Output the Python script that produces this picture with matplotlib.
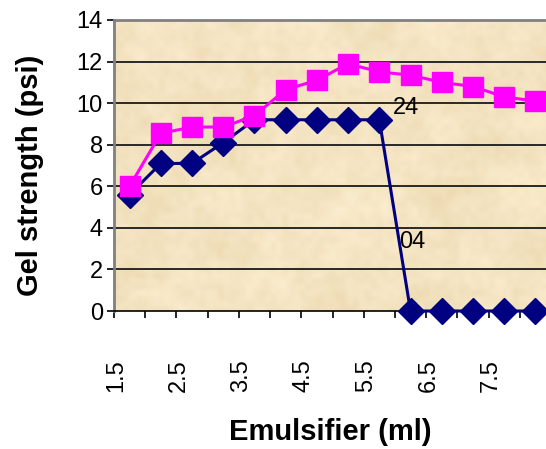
import numpy as np
import matplotlib.pyplot as plt
from matplotlib.ticker import FixedLocator

plt.rcParams['font.family'] = ['Liberation Sans', 'DejaVu Sans']

# emulsifier volume (ml) per category, labels shown every other one
emulsifier = ["1.5", "2", "2.5", "3", "3.5", "4", "4.5", "5",
              "5.5", "6", "6.5", "7", "7.5", "8"]
# gel strength (psi)
gel_04 = [5.6, 7.1, 7.1, 8.1, 9.2, 9.2, 9.2, 9.2, 9.2, 0, 0, 0, 0, 0]
gel_24 = [6.0, 8.55, 8.85, 8.85, 9.4, 10.65, 11.1, 11.9, 11.5, 11.35,
          11.0, 10.8, 10.3, 10.1]
yticks = [0, 2, 4, 6, 8, 10, 12, 14]

W, H = 546, 449
fig = plt.figure(figsize=(W / 100, H / 100), dpi=100)
fig.patch.set_facecolor('white')

# plot area in pixels: left 114, top 20, bottom 311, runs past right edge
x0, x1, ytop, ybot = 114, 551, 20, 311
ax = fig.add_axes([x0 / W, (H - ybot) / H, (x1 - x0) / W, (ybot - ytop) / H])

n = len(emulsifier)
xs = np.arange(n)
ax.set_xlim(-0.5, n - 0.5)
ax.set_ylim(0, 14)


def upsample(a, shape):
    # bilinear resize of a 2d array
    r = np.linspace(0, a.shape[0] - 1, shape[0])
    c = np.linspace(0, a.shape[1] - 1, shape[1])
    tmp = np.array([np.interp(c, np.arange(a.shape[1]), row) for row in a])
    return np.array([np.interp(r, np.arange(a.shape[0]), col) for col in tmp.T]).T


# parchment background
rng = np.random.default_rng(11)
shape = (290, 440)
tex = (0.4 * upsample(rng.random((6, 9)), shape)
       + 0.35 * upsample(rng.random((18, 27)), shape)
       + 0.3 * upsample(rng.random((50, 75)), shape)
       + 0.08 * rng.random(shape))
tex = (tex - tex.min()) / (tex.max() - tex.min())
light = np.array([252, 239, 210]) / 255
dark = np.array([236, 216, 176]) / 255
img = light[None, None, :] * (1 - tex[..., None]) + dark[None, None, :] * tex[..., None]
ax.imshow(img, extent=(-0.5, n - 0.5, 0, 14), aspect='auto',
          interpolation='bilinear', zorder=0)

for y in yticks[1:-1]:
    ax.axhline(y, color='#1a1a1a', lw=1.3, zorder=1)

ax.plot(xs, gel_04, color='#000080', lw=2.2, marker='D', ms=13,
        zorder=3, clip_on=False)
ax.plot(xs, gel_24, color='#ff00ff', lw=2.2, marker='s', ms=15,
        zorder=4, clip_on=False)

ax.text(8.42, 9.75, "24", fontsize=17, va='center', ha='left', zorder=5)
ax.text(8.62, 3.3, "04", fontsize=17, va='center', ha='left', zorder=5)

for s in ['top', 'left']:
    ax.spines[s].set_color('#808080')
    ax.spines[s].set_linewidth(2)
ax.spines['right'].set_visible(False)
ax.spines['bottom'].set_color('black')
ax.spines['bottom'].set_linewidth(1.2)

ax.set_yticks(yticks)
ax.set_yticklabels([str(v) for v in yticks], fontsize=17)
ax.tick_params(axis='y', length=5, width=1.2, pad=3)

# boundary ticks between categories, labels offset toward the left
ax.xaxis.set_major_locator(FixedLocator(np.arange(-0.5, n, 1.0)))
ax.set_xticklabels([])
ax.tick_params(axis='x', which='major', length=5, width=1.2, direction='out')
lab_pos = xs[::2] - 0.43
ax.xaxis.set_minor_locator(FixedLocator(lab_pos))
ax.set_xticklabels(emulsifier[::2], minor=True, rotation=90,
                   fontsize=17, va='top', ha='center')
ax.tick_params(axis='x', which='minor', length=0, pad=35)

fig.text(30 / W, 1 - 175 / H, "Gel strength (psi)", rotation=90,
         fontsize=21, fontweight='bold', ha='center', va='center')
fig.text(330 / W, 1 - 432 / H, "Emulsifier (ml)",
         fontsize=21, fontweight='bold', ha='center', va='center')

fig.savefig('out.png', dpi=100)
